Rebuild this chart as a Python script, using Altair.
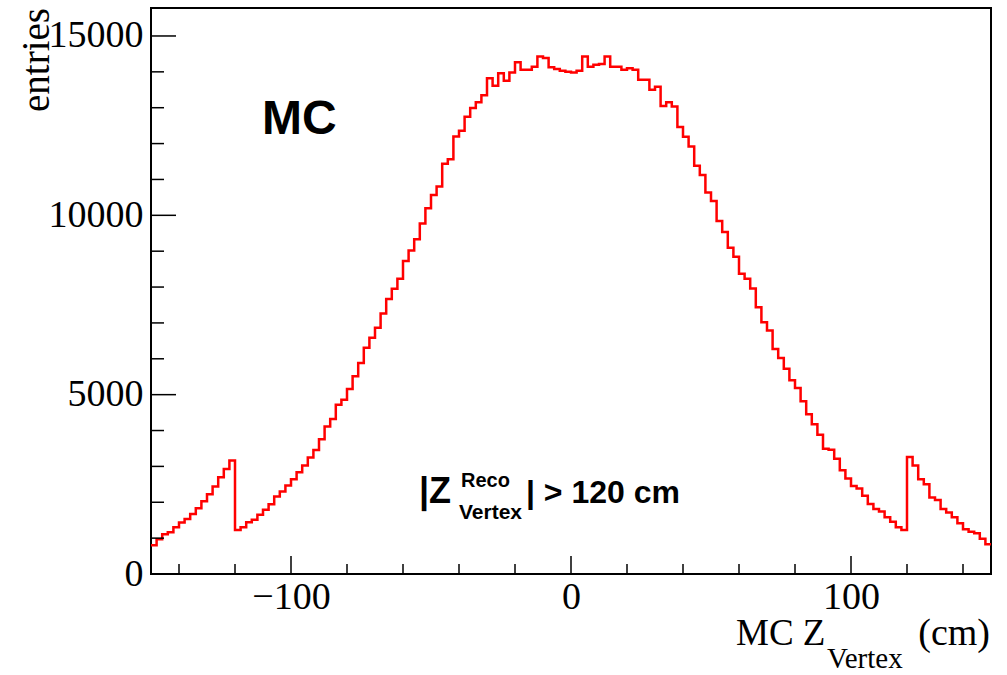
import altair as alt
import pandas as pd

# Histogram: 150 bins of 2 cm from -150 to 150 cm
x_low = -150.0
bin_width = 2.0
counts = [
    800, 970, 1110, 1165, 1305, 1435, 1535, 1675, 1835, 2030,
    2225, 2440, 2700, 2930, 3165, 1230, 1305, 1445, 1510, 1650,
    1790, 1945, 2160, 2300, 2465, 2645, 2840, 3025, 3250, 3460,
    3760, 4115, 4320, 4720, 4860, 5160, 5510, 5885, 6305, 6585,
    6865, 7260, 7670, 7950, 8230, 8725, 9020, 9330, 9770, 10200,
    10565, 10800, 11440, 11565, 12200, 12355, 12745, 12990, 13150, 13350,
    13820, 13610, 13960, 13750, 13985, 14265, 14060, 14060, 14140, 14430,
    14385, 14125, 14080, 14030, 14000, 13985, 14030, 14430, 14140, 14200,
    14220, 14430, 14140, 14140, 14060, 14100, 14060, 13780, 13780, 13500,
    13585, 13050, 13150, 13035, 12465, 12190, 11920, 11380, 11125, 10635,
    10400, 9840, 9535, 9095, 8845, 8370, 8230, 7960, 7440, 7020,
    6790, 6275, 6025, 5720, 5400, 5185, 4815, 4455, 4175, 3880,
    3490, 3465, 3215, 2895, 2660, 2450, 2385, 2180, 1955, 1815,
    1740, 1585, 1460, 1305, 1230, 3260, 3025, 2645, 2505, 2130,
    2065, 1815, 1715, 1585, 1415, 1250, 1180, 1135, 980, 830,
]

x_major = [-100, 0, 100]
x_minor = [-140, -120, -80, -60, -40, -20, 20, 40, 60, 80, 120, 140]
y_major = [0, 5000, 10000, 15000]
y_minor = [1000, 2000, 3000, 4000, 6000, 7000, 8000, 9000, 11000, 12000, 13000, 14000]

x_domain = [-150, 150]
y_domain = [0, 15780]

W, H = 840, 566

edges = [x_low + bin_width * i for i in range(len(counts) + 1)]
hist = pd.DataFrame({"v": edges, "n": counts + [counts[-1]]})

xs = alt.Scale(domain=x_domain, nice=False, zero=False)
ys = alt.Scale(domain=y_domain, nice=False, zero=True)

x_axis = alt.Axis(
    values=x_major, ticks=False, domain=False, grid=False, title=None,
    labelFont="Liberation Serif", labelFontSize=38, labelColor="black",
    labelPadding=4, labelFlush=False)
y_axis = alt.Axis(
    values=y_major, format="d", ticks=False, domain=False, grid=False, title=None,
    labelFont="Liberation Serif", labelFontSize=38, labelColor="black",
    labelPadding=8, labelFlush=False)

line = alt.Chart(hist).mark_line(
    interpolate="step-after", color="#ff0000", strokeWidth=2.5, clip=True
).encode(
    x=alt.X("v:Q", scale=xs, axis=x_axis),
    y=alt.Y("n:Q", scale=ys, axis=y_axis),
)

def xticks(vals, length):
    return alt.Chart(pd.DataFrame({"v": vals})).mark_rule(color="black", strokeWidth=1.5).encode(
        x=alt.X("v:Q", scale=xs, axis=x_axis),
        y=alt.value(H), y2=alt.value(H - length))

def yticks(vals, length):
    return alt.Chart(pd.DataFrame({"n": vals})).mark_rule(color="black", strokeWidth=1.5).encode(
        y=alt.Y("n:Q", scale=ys, axis=y_axis),
        x=alt.value(0), x2=alt.value(length))

def label(txt, x, y, size, font, weight="normal", angle=0, align="left"):
    return alt.Chart(pd.DataFrame({"s": [txt]})).mark_text(
        font=font, fontSize=size, fontWeight=weight, color="black",
        align=align, baseline="alphabetic", angle=angle
    ).encode(text="s:N", x=alt.value(x), y=alt.value(y))

L, T = 151, 8
texts = [
    label("MC", 262 - L, 134 - T, 48, "Liberation Sans", "bold"),
    label("|Z", 419 - L, 503 - T, 36, "Liberation Sans", "bold"),
    label("Reco", 461 - L, 487 - T, 20, "Liberation Sans", "bold"),
    label("Vertex", 459 - L, 519 - T, 21, "Liberation Sans", "bold"),
    label("| > 120 cm", 526 - L, 503 - T, 32, "Liberation Sans", "bold"),
    label("MC Z", 736 - L, 645 - T, 37, "Liberation Serif"),
    label("Vertex", 827 - L, 668 - T, 29, "Liberation Serif"),
    label("(cm)", 990 - L, 645 - T, 38, "Liberation Serif", align="right"),
    label("entries", 49 - L, 8 - T, 39, "Liberation Serif", angle=270, align="right"),
]

chart = alt.layer(
    line,
    xticks(x_major, 18), xticks(x_minor, 10),
    yticks(y_major, 25), yticks(y_minor, 13),
    *texts,
).properties(
    width=W, height=H,
    autosize=alt.AutoSizeParams(type="none"),
    padding={"left": L, "top": T, "right": 1007 - L - W, "bottom": 675 - T - H},
    background="white",
).configure_view(stroke="black", strokeWidth=2)

chart.save("out.html", embed_options={"renderer": "svg", "actions": False})
